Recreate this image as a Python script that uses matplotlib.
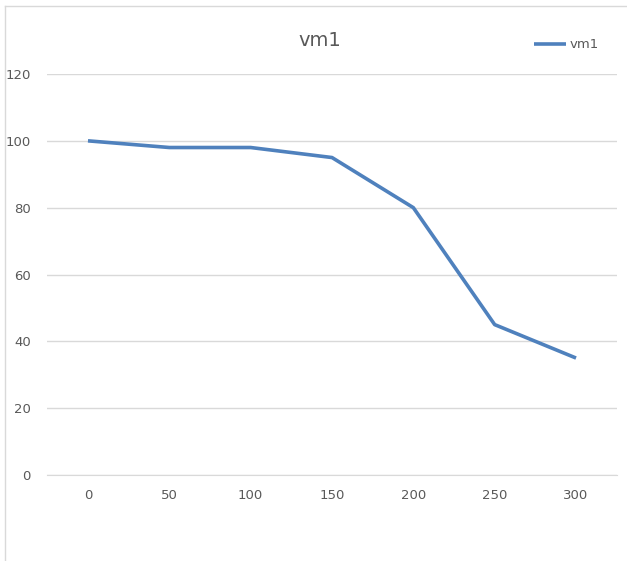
import matplotlib.pyplot as plt
from matplotlib.lines import Line2D

# data
categories = ['0', '50', '100', '150', '200', '250', '300']
vm1 = [100, 98, 98, 95, 80, 45, 35]
yticks = [0, 20, 40, 60, 80, 100, 120]

plt.rcParams['font.family'] = ['Liberation Sans Narrow', 'DejaVu Sans Condensed', 'DejaVu Sans']

text_col = '#595959'
grid_col = '#d9d9d9'
line_col = '#4f81bd'

fig = plt.figure(figsize=(6.27, 5.61), dpi=100)

# chart border (top and left only visible)
top = 1 - 5.5/561
left = 4.5/627
fig.lines.append(Line2D([left, 1], [top, top], transform=fig.transFigure, color=grid_col, linewidth=1))
fig.lines.append(Line2D([left, left], [0, top], transform=fig.transFigure, color=grid_col, linewidth=1))

ax = fig.add_axes([47.3/627, 86/561, (616.7-47.3)/627, (475-74)/561])
x = range(len(categories))
ax.plot(x, vm1, color=line_col, linewidth=2.6, label='vm1', solid_capstyle='butt')

ax.set_xlim(-0.5, len(categories) - 0.5)
ax.set_ylim(0, 120)
ax.set_yticks(yticks)
ax.set_xticks(list(x))
ax.set_xticklabels(categories)
ax.yaxis.grid(True, color=grid_col, linewidth=1)
ax.set_axisbelow(True)
for s in ax.spines.values():
    s.set_visible(False)
ax.spines['bottom'].set_visible(True)
ax.spines['bottom'].set_color(grid_col)
ax.tick_params(length=0, colors=text_col, labelsize=9.5)
ax.tick_params(axis='x', pad=10)
ax.tick_params(axis='y', pad=12)

fig.text(320/627, 1 - 40/561, 'vm1', ha='center', va='center', fontsize=14, color=text_col)

leg = ax.legend(loc='center left', bbox_to_anchor=(522/627, 1 - 45/561), bbox_transform=fig.transFigure,
                frameon=False, fontsize=9.5, handlelength=2.4, handletextpad=0.3)
for t in leg.get_texts():
    t.set_color(text_col)

fig.savefig('out.png', dpi=100)
